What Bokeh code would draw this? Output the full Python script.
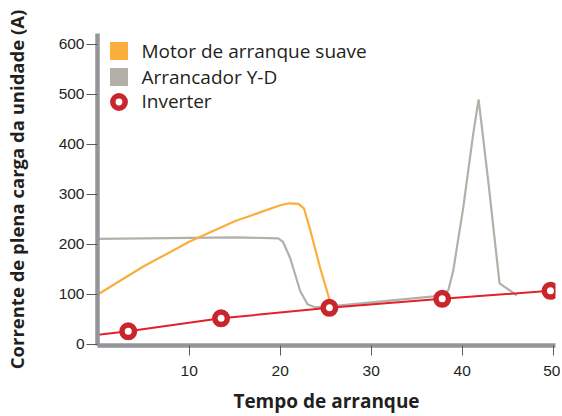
from bokeh.plotting import figure
from bokeh.models import Legend, LegendItem, Range1d, FixedTicker
from bokeh.embed import file_html
from bokeh.resources import INLINE

# ---- data ----
soft_t = [0, 5, 10, 15, 20, 21.0, 22.0, 22.6, 23.2, 24.4, 25.6]
soft_a = [100, 156, 205, 246, 278, 282, 281, 272, 235, 152, 78]

yd_t = [0, 10, 15, 19.8, 20.3, 21.1, 22.2, 23.0, 23.8, 25.5, 38.0, 38.5, 39.0, 40.1, 41.2, 41.8, 42.9, 44.1, 46.0]
yd_a = [211, 213, 214, 212, 205, 172, 106, 80, 74, 76, 98, 110, 146, 272, 420, 490, 320, 122, 98]

inv_line_t = [0, 3.3, 13.5, 25.4, 37.8, 49.7]
inv_line_a = [19, 26, 52, 73, 91, 107]
inv_pts_t = [3.3, 13.5, 25.4, 37.8, 49.7]
inv_pts_a = [26, 52, 73, 91, 107]

x_ticks = [10, 20, 30, 40, 50]
y_ticks = [0, 100, 200, 300, 400, 500, 600]

labels = ["Motor de arranque suave", "Arrancador Y-D", "Inverter"]
x_title = "Tempo de arranque"
y_title = "Corrente de plena carga da unidade (A)"

ORANGE = "#FBAE3B"
GREY = "#B3B0A8"
RED_LINE = "#E5202A"
RED_DOT = "#C9252C"
AXIS = "#939598"
TEXT = "#231F20"

p = figure(width=560, height=416,
           min_border_left=97, min_border_top=33, min_border_right=5, min_border_bottom=71,
           x_range=Range1d(-0.08, 50.25), y_range=Range1d(-2.4, 621.6),
           output_backend="svg", toolbar_location=None)
# a range that keeps the legend-swatch renderers outside the drawing area
p.extra_y_ranges = {"swatch": Range1d(start=10000, end=20000)}

p.grid.visible = False
p.outline_line_color = None
p.background_fill_color = "white"
p.border_fill_color = "white"

grey_r = p.line(yd_t, yd_a, line_color=GREY, line_width=2.2)
orange_r = p.line(soft_t, soft_a, line_color=ORANGE, line_width=2.2)
red_r = p.line(inv_line_t, inv_line_a, line_color=RED_LINE, line_width=2)
dots = p.scatter(inv_pts_t, inv_pts_a, marker="circle", size=12.5,
                 fill_color="white", line_color=RED_DOT, line_width=5.5)

# legend swatches
sw_orange = p.scatter(soft_t[:1], soft_a[:1], y_range_name="swatch",
                      marker="square", size=9.2, fill_color=ORANGE, line_color=ORANGE,
                      line_width=8.8, line_join="miter")
sw_grey = p.scatter(yd_t[:1], yd_a[:1], y_range_name="swatch",
                    marker="square", size=9.2, fill_color=GREY, line_color=GREY,
                    line_width=8.8, line_join="miter")

common = dict(border_line_color=None, background_fill_alpha=0, margin=0, padding=0, spacing=0,
              label_text_font="Open Sans", label_text_font_size="19px", label_text_color=TEXT,
              label_height=20)
legend_sq = Legend(items=[LegendItem(label=labels[0], renderers=[sw_orange]),
                          LegendItem(label=labels[1], renderers=[sw_grey])],
                   location=(9.5, 255.5), glyph_height=23, glyph_width=23, label_standoff=12,
                   **common)
legend_dot = Legend(items=[LegendItem(label=labels[2], renderers=[dots])],
                    location=(5.5, 228.2), glyph_height=31, glyph_width=31, label_standoff=8,
                    **common)
p.add_layout(legend_sq)
p.add_layout(legend_dot)

for ax in (p.xaxis, p.yaxis):
    ax.axis_line_color = AXIS
    ax.axis_line_width = 4.5
    ax.major_tick_line_color = "#58595B"
    ax.major_tick_line_width = 1
    ax.major_tick_in = 0
    ax.minor_tick_line_color = None
    ax.major_label_text_font = "Liberation Sans"
    ax.major_label_text_font_size = "15.5px"
    ax.major_label_text_color = TEXT
    ax.axis_label_text_font = "Open Sans"
    ax.axis_label_text_font_style = "bold"
    ax.axis_label_text_color = TEXT

p.xaxis.ticker = FixedTicker(ticks=x_ticks)
p.yaxis.ticker = FixedTicker(ticks=y_ticks)
p.xaxis.major_tick_out = 10
p.yaxis.major_tick_out = 11
p.xaxis.major_label_standoff = 10
p.yaxis.major_label_standoff = 2

p.xaxis.axis_label = x_title
p.xaxis.axis_label_text_font_size = "19px"
p.xaxis.axis_label_standoff = 9
p.yaxis.axis_label = y_title
p.yaxis.axis_label_text_font_size = "18.5px"
p.yaxis.axis_label_standoff = 27

open("out.html", "w").write(file_html(p, INLINE))
